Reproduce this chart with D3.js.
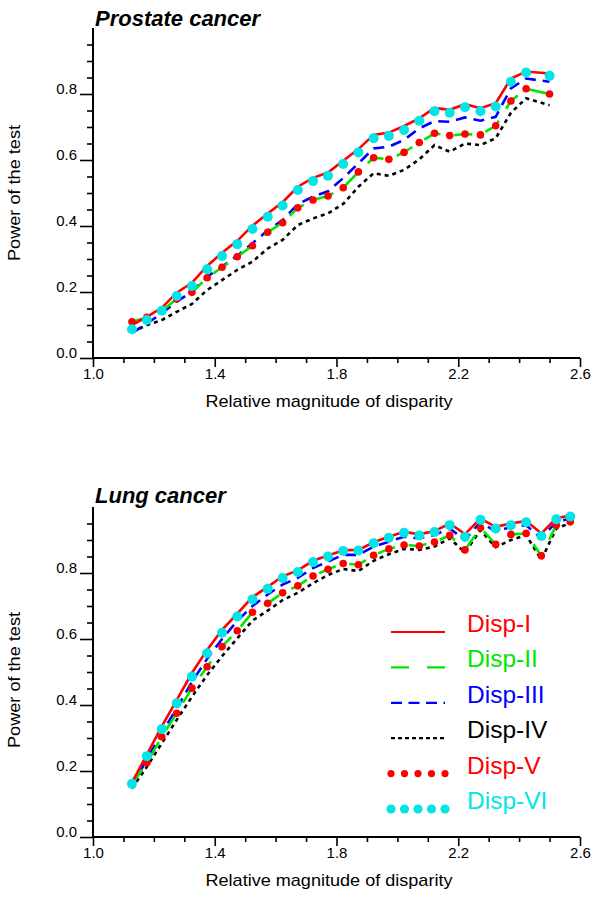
<!DOCTYPE html>
<html>
<head>
<meta charset="utf-8">
<script src="https://cdn.jsdelivr.net/npm/d3@7"></script>
<style>
  html, body { margin: 0; padding: 0; background: #fff; }
  svg { display: block; }
  text { font-family: "Liberation Sans", Arial, Helvetica, sans-serif; }
</style>
</head>
<body>
<svg id="chart" width="600" height="899"></svg>
<script>
// ---------- DATA ----------
const seriesNames = ["Disp-I", "Disp-II", "Disp-III", "Disp-IV", "Disp-V", "Disp-VI"];
const panelTitles = ["Prostate cancer", "Lung cancer"];
const xTickLabels = [1.0, 1.4, 1.8, 2.2, 2.6];
const yTickLabels = [0.0, 0.2, 0.4, 0.6, 0.8];

const xProstate = [1.128, 1.177, 1.226, 1.275, 1.325, 1.375, 1.424, 1.474, 1.524, 1.574, 1.623, 1.673, 1.723, 1.772,
  1.822, 1.872, 1.922, 1.972, 2.022, 2.072, 2.122, 2.172, 2.222, 2.273, 2.323, 2.373, 2.423, 2.500];
const prostateI = [0.100, 0.125, 0.152, 0.198, 0.228, 0.279, 0.319, 0.355, 0.401, 0.438, 0.472, 0.519, 0.546, 0.562,
  0.598, 0.633, 0.676, 0.683, 0.703, 0.726, 0.758, 0.752, 0.769, 0.757, 0.772, 0.847, 0.868, 0.862];
const prostateII = [0.110, 0.123, 0.143, 0.179, 0.199, 0.243, 0.275, 0.307, 0.340, 0.381, 0.410, 0.455, 0.479, 0.491,
  0.516, 0.564, 0.607, 0.602, 0.623, 0.653, 0.681, 0.674, 0.679, 0.676, 0.704, 0.779, 0.816, 0.800];
const prostateIII = [0.075, 0.105, 0.135, 0.171, 0.201, 0.246, 0.277, 0.310, 0.348, 0.386, 0.418, 0.466, 0.489, 0.505,
  0.545, 0.590, 0.635, 0.640, 0.661, 0.696, 0.718, 0.716, 0.729, 0.719, 0.731, 0.817, 0.847, 0.837];
const prostateIV = [0.078, 0.100, 0.115, 0.140, 0.164, 0.206, 0.236, 0.267, 0.292, 0.332, 0.358, 0.403, 0.423, 0.438,
  0.467, 0.519, 0.560, 0.552, 0.570, 0.602, 0.645, 0.625, 0.650, 0.645, 0.666, 0.743, 0.787, 0.766];
const prostateV = [0.110, 0.123, 0.143, 0.179, 0.199, 0.243, 0.275, 0.307, 0.340, 0.381, 0.410, 0.455, 0.479, 0.491,
  0.516, 0.564, 0.607, 0.602, 0.623, 0.653, 0.681, 0.674, 0.679, 0.676, 0.704, 0.779, 0.816, 0.800];
const prostateVI = [0.087, 0.115, 0.143, 0.188, 0.218, 0.269, 0.309, 0.345, 0.391, 0.428, 0.462, 0.509, 0.536, 0.552,
  0.588, 0.623, 0.666, 0.673, 0.691, 0.719, 0.748, 0.743, 0.760, 0.748, 0.762, 0.837, 0.865, 0.855];

const xLung = [1.128, 1.177, 1.226, 1.275, 1.325, 1.375, 1.424, 1.474, 1.524, 1.574, 1.623, 1.673, 1.723, 1.772,
  1.822, 1.872, 1.922, 1.972, 2.022, 2.072, 2.122, 2.172, 2.222, 2.273, 2.323, 2.373, 2.423, 2.473, 2.522, 2.568];
const lungI = [0.165, 0.250, 0.335, 0.415, 0.497, 0.567, 0.628, 0.677, 0.727, 0.758, 0.790, 0.808, 0.837, 0.853,
  0.869, 0.870, 0.893, 0.910, 0.925, 0.917, 0.927, 0.950, 0.918, 0.965, 0.940, 0.950, 0.958, 0.920, 0.966, 0.974];
const lungII = [0.160, 0.225, 0.304, 0.375, 0.451, 0.516, 0.577, 0.625, 0.681, 0.708, 0.740, 0.761, 0.791, 0.811,
  0.829, 0.825, 0.854, 0.873, 0.885, 0.882, 0.894, 0.914, 0.870, 0.937, 0.887, 0.917, 0.920, 0.852, 0.945, 0.955];
const lungIII = [0.155, 0.235, 0.315, 0.390, 0.470, 0.540, 0.600, 0.655, 0.700, 0.735, 0.765, 0.785, 0.815, 0.835,
  0.855, 0.855, 0.880, 0.895, 0.910, 0.905, 0.915, 0.935, 0.900, 0.955, 0.925, 0.940, 0.945, 0.905, 0.955, 0.965];
const lungIV = [0.147, 0.213, 0.284, 0.355, 0.425, 0.491, 0.548, 0.602, 0.656, 0.686, 0.718, 0.740, 0.769, 0.794,
  0.812, 0.806, 0.837, 0.857, 0.873, 0.870, 0.880, 0.905, 0.862, 0.930, 0.878, 0.900, 0.915, 0.840, 0.935, 0.951];
const lungV = [0.160, 0.225, 0.304, 0.375, 0.451, 0.516, 0.577, 0.625, 0.681, 0.708, 0.740, 0.761, 0.791, 0.811,
  0.829, 0.825, 0.854, 0.873, 0.885, 0.882, 0.894, 0.914, 0.870, 0.937, 0.887, 0.917, 0.920, 0.852, 0.945, 0.955];
const lungVI = [0.161, 0.245, 0.327, 0.405, 0.486, 0.557, 0.619, 0.668, 0.720, 0.752, 0.785, 0.803, 0.833, 0.850,
  0.867, 0.868, 0.890, 0.907, 0.922, 0.914, 0.924, 0.945, 0.910, 0.961, 0.935, 0.945, 0.954, 0.912, 0.963, 0.971];

// ---------- STYLES ----------
const styles = [
  { type: "line", color: "#ff0000", width: 2.6, dash: null,    legendDash: null,   legendWidth: 2.2 },
  { type: "line", color: "#00e600", width: 2.6, dash: "18,14", legendDash: "18,18", legendWidth: 2.2 },
  { type: "line", color: "#0000ff", width: 2.6, dash: "11,7",  legendDash: "11,6.5", legendWidth: 2.2 },
  { type: "line", color: "#000000", width: 2.6, dash: "4,4",   legendDash: "4,3",  legendWidth: 2.2 },
  { type: "dots", color: "#ff0000", r: 3.8, legendR: 3.6 },
  { type: "dots", color: "#00e6e6", r: 5.0, legendR: 4.6 }
];
const drawOrder = [3, 2, 1, 0, 4, 5];

const svg = d3.select("#chart");
const xRange = [93, 580];

function drawPanel(top, bottom, title, xs, series, titleBaseline, yTitleCenter, withLegend) {
  const x = d3.scaleLinear().domain([1.0, 2.6]).range(xRange);
  const y = d3.scaleLinear().domain([0, 1]).range([bottom, top]);
  const g = svg.append("g");

  // title
  g.append("text").attr("x", 95).attr("y", titleBaseline)
    .attr("font-size", 22).attr("font-weight", "bold").attr("font-style", "italic")
    .text(title);

  // y-axis minor ticks
  const yMinor = d3.range(1, 20).map(i => i * 0.05).filter(v => Math.abs(v * 5 - Math.round(v * 5)) > 1e-6);
  const yMinorAxis = d3.axisLeft(y).tickValues(yMinor).tickSize(6).tickSizeOuter(0).tickFormat("");
  const ym = g.append("g").attr("transform", `translate(${xRange[0]},0)`).call(yMinorAxis);
  ym.select(".domain").remove();
  const yMajorAxis = d3.axisLeft(y).tickValues(yTickLabels).tickSize(13).tickSizeOuter(0)
    .tickFormat(d3.format(".1f"));
  const yM = g.append("g").attr("transform", `translate(${xRange[0]},0)`).call(yMajorAxis);
  yM.select(".domain").remove();
  yM.selectAll("text").attr("dy", "-0.05em").attr("x", -16).attr("font-size", 15)
    .attr("font-family", "Liberation Sans, Arial, sans-serif").attr("fill", "#000");
  [ym, yM].forEach(a => a.selectAll("line").attr("stroke", "#000").attr("stroke-width", 1.6));

  // x-axis ticks
  const xMinor = d3.range(11, 26).map(i => i / 10).filter(v => Math.abs((v - 1) / 0.4 - Math.round((v - 1) / 0.4)) > 1e-6);
  const xMinorAxis = d3.axisBottom(x).tickValues(xMinor).tickSize(5).tickSizeOuter(0).tickFormat("");
  const xm = g.append("g").attr("transform", `translate(0,${bottom})`).call(xMinorAxis);
  xm.select(".domain").remove();
  const xMajorAxis = d3.axisBottom(x).tickValues(xTickLabels).tickSize(9).tickSizeOuter(0)
    .tickFormat(d3.format(".1f"));
  const xM = g.append("g").attr("transform", `translate(0,${bottom})`).call(xMajorAxis);
  xM.select(".domain").remove();
  xM.selectAll("text").attr("dy", 0).attr("y", 21).attr("font-size", 15)
    .attr("font-family", "Liberation Sans, Arial, sans-serif").attr("fill", "#000");
  [xm, xM].forEach(a => a.selectAll("line").attr("stroke", "#000").attr("stroke-width", 1.6));

  // axis lines
  g.append("line").attr("x1", xRange[0]).attr("x2", xRange[0]).attr("y1", y(0) + 1).attr("y2", y(1))
    .attr("stroke", "#000").attr("stroke-width", 2);
  g.append("line").attr("x1", xRange[0] - 1).attr("x2", xRange[1]).attr("y1", y(0)).attr("y2", y(0))
    .attr("stroke", "#000").attr("stroke-width", 2);

  // axis titles
  g.append("text").attr("x", (xRange[0] + xRange[1]) / 2 - 7.5).attr("y", bottom + 49)
    .attr("text-anchor", "middle").attr("font-size", 17)
    .attr("textLength", 247).attr("lengthAdjust", "spacingAndGlyphs")
    .text("Relative magnitude of disparity");
  g.append("text").attr("transform", `translate(20,${yTitleCenter}) rotate(-90)`)
    .attr("text-anchor", "middle").attr("font-size", 17)
    .attr("textLength", 136).attr("lengthAdjust", "spacingAndGlyphs")
    .text("Power of the test");

  // series
  const line = d3.line().x(d => x(d[0])).y(d => y(d[1]));
  drawOrder.forEach(i => {
    const st = styles[i];
    const pts = xs.map((xv, k) => [xv, series[i][k]]);
    if (st.type === "line") {
      g.append("path").datum(pts).attr("d", line).attr("fill", "none")
        .attr("stroke", st.color).attr("stroke-width", st.width)
        .attr("stroke-dasharray", st.dash).attr("stroke-linejoin", "miter");
    } else {
      g.append("g").selectAll("circle").data(pts).join("circle")
        .attr("cx", d => x(d[0])).attr("cy", d => y(d[1])).attr("r", st.r).attr("fill", st.color);
    }
  });

  if (withLegend) {
    const lg = g.append("g");
    const lx0 = 391, lx1 = 445, tx = 467, baseline0 = 632, step = 35.4;
    seriesNames.forEach((name, i) => {
      const st = styles[i];
      const by = baseline0 + i * step;
      if (st.type === "line") {
        lg.append("line").attr("x1", lx0).attr("x2", lx1).attr("y1", by).attr("y2", by)
          .attr("stroke", st.color).attr("stroke-width", st.legendWidth)
          .attr("stroke-dasharray", st.legendDash);
      } else {
        lg.selectAll(null).data(d3.range(5)).join("circle")
          .attr("cx", k => lx0 + k * (lx1 - lx0) / 4).attr("cy", by).attr("r", st.legendR)
          .attr("fill", st.color);
      }
      lg.append("text").attr("x", tx).attr("y", by).attr("font-size", 24.5)
        .attr("fill", st.color).text(name);
    });
  }
}

drawPanel(28, 358, panelTitles[0], xProstate,
  [prostateI, prostateII, prostateIII, prostateIV, prostateV, prostateVI], 26, 193, false);
drawPanel(507, 837, panelTitles[1], xLung,
  [lungI, lungII, lungIII, lungIV, lungV, lungVI], 503, 680, true);
</script>
</body>
</html>
